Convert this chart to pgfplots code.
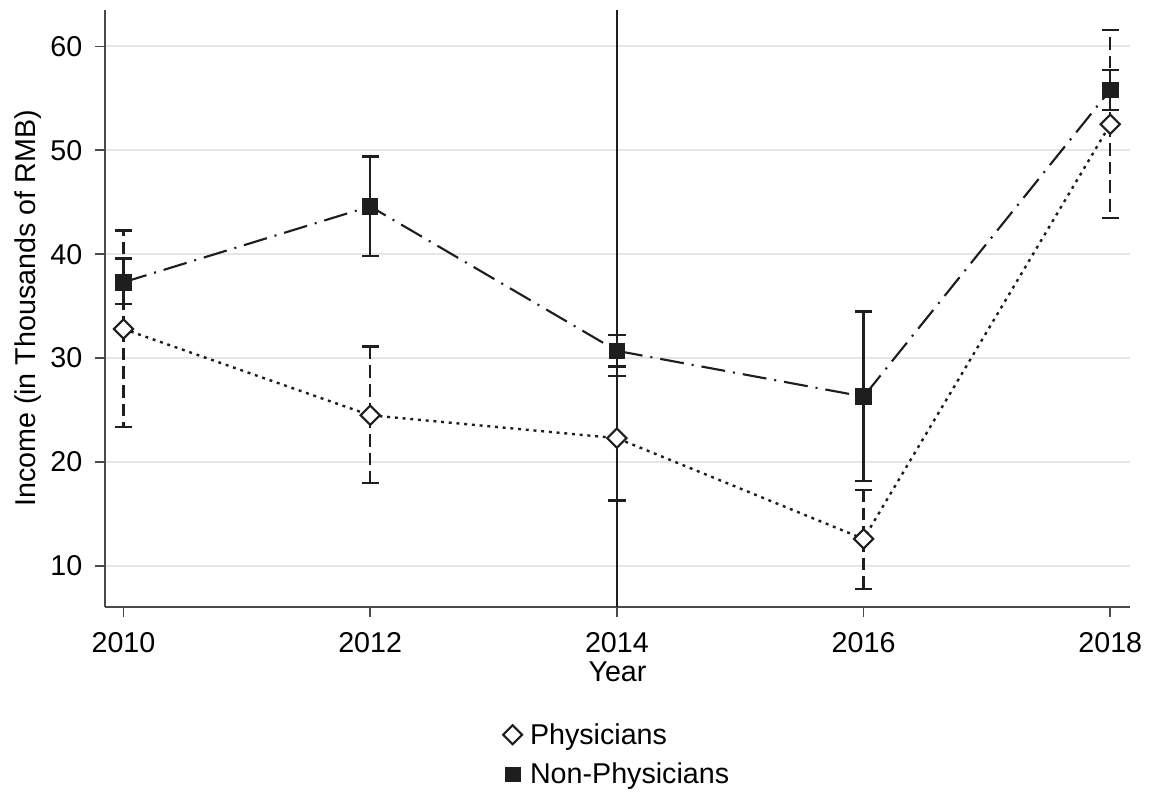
\documentclass[border=0pt]{standalone}
\usepackage{pgfplots}
\pgfplotsset{compat=1.18}
\usepackage{fontspec}
\setmainfont{Liberation Sans}
\definecolor{ink}{HTML}{1E1E1E}
\definecolor{gridc}{HTML}{E6E6E6}
\definecolor{spine}{HTML}{4A4A4A}
\begin{document}
\begin{tikzpicture}
\begin{axis}[name=ax, scale only axis, width=768.75pt, height=447.75pt,
 xmin=2009.85, xmax=2018.16, ymin=6.05, ymax=63.5,
 axis x line*=bottom, axis y line*=left,
 axis line style={spine, line width=1.2pt},
 tick style={spine, line width=1.2pt}, major tick length=7.5pt, tick align=outside,
 xtick={2010,2012,2014,2016,2018}, ytick={10,20,30,40,50,60},
 ymajorgrids, grid style={gridc, line width=1.5pt},
 /pgf/number format/assume math mode=true, /pgf/number format/1000 sep={},
 tick label style={font=\fontsize{21.5}{25}\selectfont},
 xticklabel style={yshift=-8pt},
 yticklabel style={xshift=-6pt},
 label style={font=\fontsize{21.5}{25}\selectfont},
 xlabel={Year}, ylabel={Income (in Thousands of RMB)},
 legend style={at={(0.5,-0.19)}, anchor=north, draw=none, fill=none, inner sep=0pt,
   font=\fontsize{21.5}{25}\selectfont, row sep=8.5pt},
 legend cell align=left,
]
\addplot[ink, line width=1.5pt, forget plot] coordinates {(2014,6.05) (2014,63.5)};
\addplot[ink, line width=1.6pt, dash pattern=on 18pt off 6pt on 1.5pt off 6pt,
  mark=square*, mark options={solid, fill=ink, mark size=5.4pt}, forget plot,
  error bars/.cd, y dir=both, y explicit, error mark=|,
  error bar style={solid, line width=1.8pt},
  error mark options={solid, line width=1.8pt, mark size=6.5pt}]
 table[x=x, y=y, y error plus=ep, y error minus=em] {
x y ep em
2010 37.3 2.3 2.1
2012 44.6 4.8 4.8
2014 30.7 1.5 1.5
2016 26.3 8.2 8.1
2018 55.8 1.9 1.9
};
\addplot[ink, line width=1.8pt, dash pattern=on 2.2pt off 3.6pt,
  mark=square*, mark options={solid, fill=white, rotate=45, mark size=5.1pt, line width=1.6pt}, forget plot,
  error bars/.cd, y dir=both, y explicit, error mark=|,
  error bar style={dash pattern=on 9.5pt off 4.5pt, line width=1.8pt},
  error mark options={solid, line width=1.8pt, mark size=6.5pt}]
 table[x=x, y=y, y error plus=ep, y error minus=em] {
x y ep em
2010 32.8 9.5 9.4
2012 24.5 6.6 6.5
2014 22.3 6.0 6.0
2016 12.6 4.7 4.8
2018 52.5 9.1 9.0
};
\addlegendimage{only marks, ink, mark=square*, mark options={fill=white, rotate=45, line width=1.6pt, mark size=5pt}}
\addlegendentry{\hspace{4pt}Physicians}
\addlegendimage{only marks, ink, mark=square*, mark options={fill=ink, mark size=5.4pt}}
\addlegendentry{\hspace{4pt}Non-Physicians}
\end{axis}
\path ([shift={(-78.75pt,-139.5pt)}]ax.south west) rectangle ([shift={(14.25pt,7.5pt)}]ax.north east);
\end{tikzpicture}
\end{document}
